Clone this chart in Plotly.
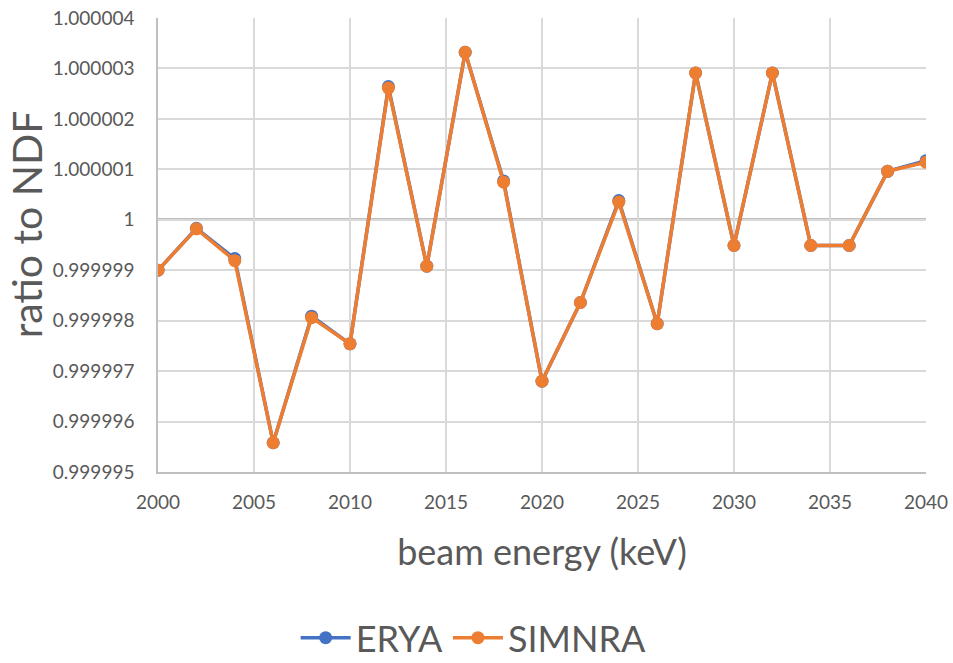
import plotly.graph_objects as go

# beam energy (keV)
energy = [2000, 2002, 2004, 2006, 2008, 2010, 2012, 2014, 2016, 2018, 2020,
          2022, 2024, 2026, 2028, 2030, 2032, 2034, 2036, 2038, 2040]

# deviation from 1, in units of 1e-6
erya_dev = [-1.00, -0.17, -0.77, -4.42, -1.91, -2.46, 2.64, -0.92, 3.32, 0.77, -3.20,
            -1.64, 0.38, -2.06, 2.91, -0.51, 2.91, -0.51, -0.51, 0.96, 1.17]
simnra_dev = [-1.00, -0.18, -0.81, -4.42, -1.94, -2.46, 2.61, -0.92, 3.32, 0.745, -3.20,
              -1.64, 0.35, -2.06, 2.91, -0.51, 2.91, -0.51, -0.51, 0.96, 1.14]

erya = [1 + d * 1e-6 for d in erya_dev]
simnra = [1 + d * 1e-6 for d in simnra_dev]

ytick_vals = [0.999995, 0.999996, 0.999997, 0.999998, 0.999999, 1.0,
              1.000001, 1.000002, 1.000003, 1.000004]
ytick_text = ["0.999995", "0.999996", "0.999997", "0.999998", "0.999999", "1",
              "1.000001", "1.000002", "1.000003", "1.000004"]
xtick_vals = [2000, 2005, 2010, 2015, 2020, 2025, 2030, 2035, 2040]

FONT = "Lato"
GREY = "#595959"

fig = go.Figure()
fig.add_trace(go.Scatter(x=energy, y=erya, name="ERYA", mode="lines+markers",
                         line=dict(color="#4472C4", width=3.5),
                         marker=dict(size=13, color="#4472C4")))
fig.add_trace(go.Scatter(x=energy, y=simnra, name="SIMNRA", mode="lines+markers",
                         line=dict(color="#ED7D31", width=3.5),
                         marker=dict(size=13, color="#ED7D31")))

# reference line at ratio = 1
fig.add_shape(type="line", xref="x", yref="y", x0=2000, x1=2040, y0=1, y1=1,
              line=dict(color="black", width=2), layer="below")

# y title as an annotation so it can sit a little above the plot centre
fig.add_annotation(text="ratio to NDF", xref="paper", yref="paper",
                   x=-0.171, y=0.545, textangle=-90, showarrow=False,
                   xanchor="center", yanchor="middle",
                   font=dict(size=41, color=GREY, family=FONT))

fig.update_layout(
    width=953, height=663,
    margin=dict(l=158, r=27, t=18, b=191),
    plot_bgcolor="white", paper_bgcolor="white",
    font=dict(family=FONT, color=GREY),
    showlegend=True,
    legend=dict(orientation="h", xref="container", yref="container",
                x=0.497, xanchor="center", y=0.038, yanchor="middle",
                font=dict(size=36, color=GREY), itemwidth=50),
    xaxis=dict(range=[2000, 2040], tickvals=xtick_vals,
               showgrid=True, gridcolor="#d9d9d9", gridwidth=1.5,
               showline=True, linecolor="#bfbfbf", linewidth=1.5,
               zeroline=False, ticks="", automargin=False,
               ticklabelstandoff=12, ticklabeloverflow="allow",
               tickfont=dict(size=19, color=GREY),
               title=dict(text="beam energy (keV)", font=dict(size=36, color=GREY),
                          standoff=28)),
    yaxis=dict(range=[0.999995, 1.000004], tickvals=ytick_vals, ticktext=ytick_text,
               showgrid=True, gridcolor="#d9d9d9", gridwidth=1.5,
               showline=True, linecolor="#bfbfbf", linewidth=1.5,
               zeroline=False, ticks="", automargin=False,
               ticklabelstandoff=18, ticklabeloverflow="allow",
               tickfont=dict(size=19, color=GREY)),
)

# drop the default body margin so the figure fills the window exactly
fig.write_html("out.html", config={"displayModeBar": False},
               post_script="document.body.style.margin='0';")
